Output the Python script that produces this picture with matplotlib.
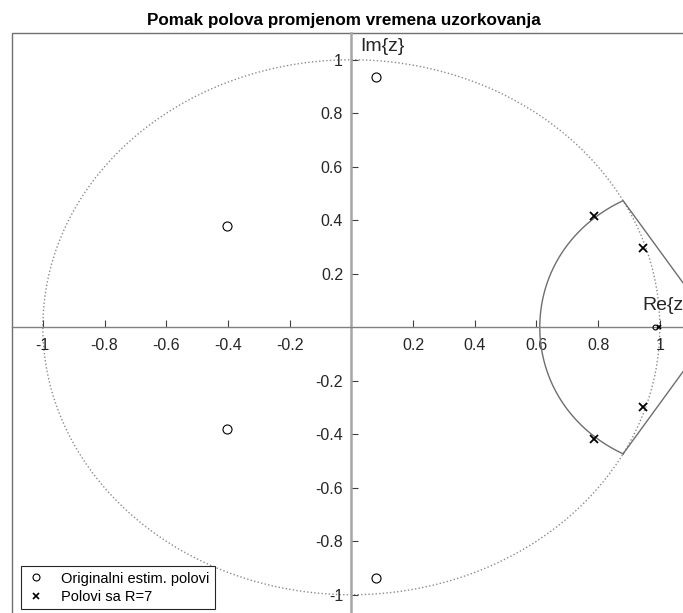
import numpy as np
import matplotlib
matplotlib.use('Agg')
import matplotlib.pyplot as plt
from matplotlib.lines import Line2D
from matplotlib.patches import Rectangle

plt.rcParams['font.family'] = ['Liberation Sans', 'DejaVu Sans']

# poles
orig_re = [0.080, 0.080, -0.403, -0.403]
orig_im = [0.937, -0.937, 0.379, -0.379]
new_re = [0.786, 0.786, 0.946, 0.946]
new_im = [0.416, -0.416, 0.298, -0.298]
# the two tiny ones sitting on z ~ 1
int_orig = (0.985, 0.0)
int_new = (0.998, 0.0)

# allowed region: |s| = wn mapped by z = exp(sT), closed by two lines to apex
wnT = 0.493
apex = (1.18, 0.0)

ticks = [-1, -0.8, -0.6, -0.4, -0.2, 0.2, 0.4, 0.6, 0.8, 1]
tick_labels = ['-1', '-0.8', '-0.6', '-0.4', '-0.2', '0.2', '0.4', '0.6', '0.8', '1']

W, H = 683, 613
fig = plt.figure(figsize=(W / 100, H / 100), dpi=100)
# axes spill past the right and bottom edge like the cropped original
ax = fig.add_axes([12 / W, -8.5 / H, 678.7 / W, 588.5 / H])
ax.set_xlim(-1.1, 1.1)
ax.set_ylim(-1.1, 1.1)

for s in ['top', 'right']:
    ax.spines[s].set_visible(False)
ax.spines['left'].set_position('zero')
ax.spines['bottom'].set_position('zero')
ax.spines['left'].set_color('#a6a6a6')
ax.spines['left'].set_linewidth(1.8)
ax.spines['bottom'].set_color('#808080')
ax.spines['bottom'].set_linewidth(1.0)

ax.set_xticks(ticks)
ax.set_xticklabels(tick_labels)
ax.set_yticks(ticks)
ax.set_yticklabels(tick_labels)
ax.tick_params(direction='in', length=5, width=0.8, color='#404040',
               labelsize=11.5, labelcolor='#262626')
ax.tick_params(axis='x', pad=8)
ax.tick_params(axis='y', pad=6)

# outer box (only top/left show in the crop)
ax.add_patch(Rectangle((0, 0), 1, 1, transform=ax.transAxes, fill=False,
                       ec='#707070', lw=1.0, clip_on=False, zorder=0))

# unit circle
t = np.linspace(0, 2 * np.pi, 400)
ax.plot(np.cos(t), np.sin(t), color='#8c8c8c', lw=1.0,
        linestyle=(0, (1, 1.6)), zorder=1)

# region boundary
th = np.linspace(-np.pi / 2, np.pi / 2, 200)
z = np.exp(wnT * (-np.cos(th) + 1j * np.sin(th)))
rx = np.concatenate([z.real, [apex[0], z.real[0]]])
ry = np.concatenate([z.imag, [apex[1], z.imag[0]]])
ax.plot(rx, ry, color='#6e6e6e', lw=1.0, zorder=2)

ax.plot(orig_re, orig_im, 'o', ms=6.5, mfc='none', mec='black', mew=0.8,
        linestyle='none', zorder=4)
ax.plot(new_re, new_im, 'x', ms=6, color='black', mew=1.3,
        linestyle='none', zorder=4)
ax.plot(*int_orig, 'o', ms=3.5, mfc='none', mec='black', mew=0.8, zorder=4)
ax.plot(*int_new, 'x', ms=3.5, color='black', mew=1.2, zorder=4)

ax.text(0.028, 1.05, 'Im{z}', fontsize=14, color='#262626',
        ha='left', va='center')
ax.text(0.942, 0.08, 'Re{z}', fontsize=14, color='#262626',
        ha='left', va='center', clip_on=False)

fig.text(343.5 / W, 1 - 21 / H, 'Pomak polova promjenom vremena uzorkovanja',
         fontsize=12.3, fontweight='bold', ha='center', va='center')

handles = [
    Line2D([0], [0], marker='o', ms=5, mfc='none', mec='black', mew=0.8,
           linestyle='none', label='Originalni estim. polovi'),
    Line2D([0], [0], marker='x', ms=5, color='black', mew=1.2,
           linestyle='none', label='Polovi sa R=7'),
]
leg = fig.legend(handles=handles, loc='lower left',
                 bbox_to_anchor=(21 / W, 4 / H), fontsize=10.5,
                 fancybox=False, framealpha=1, edgecolor='#262626',
                 borderpad=0.35, labelspacing=0.3, handletextpad=1.1,
                 handlelength=1.3, borderaxespad=0)
leg.get_frame().set_linewidth(0.8)

fig.savefig('out.png', dpi=100)
